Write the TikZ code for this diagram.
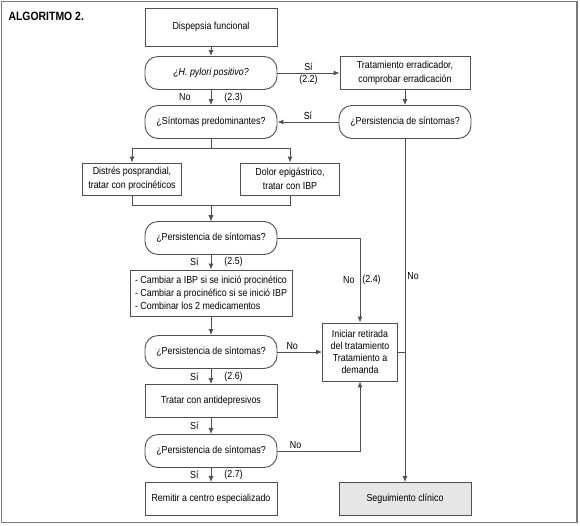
\documentclass[tikz,border=0pt]{standalone}
\usepackage{fontspec}
\setmainfont{Liberation Sans}[FakeStretch=0.87]
\usetikzlibrary{arrows.meta}
\definecolor{linegray}{HTML}{505050}
\definecolor{framegray}{HTML}{7A7A7A}
\definecolor{followfill}{HTML}{E6E6E6}
\tikzstyle{stepbox} = [rectangle, minimum width=132pt, minimum height=33pt, text centered, align=center, draw=linegray, line width=0.9pt, font=\fontsize{10.2}{13.5}\selectfont]
\tikzstyle{question} = [stepbox, rounded corners=13pt]
\tikzstyle{smallbox} = [stepbox, minimum width=99pt, minimum height=32pt]
\tikzstyle{arrow} = [line width=0.9pt, draw=linegray, ->, >={Latex[length=6pt,width=5pt]}]
\tikzstyle{link} = [line width=0.9pt, draw=linegray]
\tikzstyle{tag} = [font=\fontsize{10.2}{12}\selectfont, inner sep=2pt]

\begin{document}
\begin{tikzpicture}[node distance=49pt]
\useasboundingbox (0,0) rectangle (580pt,-525pt);
\draw [framegray, line width=1.5pt] (1.5pt,-1.5pt) rectangle (577pt,-522.5pt);
\node (title) [anchor=west, font=\bfseries\fontsize{12}{14}\selectfont] at (5pt,-16pt) {ALGORITMO 2.};
% main column
\node (disp) [stepbox, minimum height=38pt] at (211pt,-27pt) {Dispepsia funcional};
\node (hp) [question, below of=disp, node distance=46pt] {\itshape ¿H. pylori positivo?};
\node (sint) [question, below of=hp] {¿Síntomas predominantes?};
\node (distres) [smallbox, below of=sint, node distance=57pt, xshift=-79pt] {Distrés posprandial,\\tratar con procinéticos};
\node (dolor) [smallbox, below of=sint, node distance=57pt, xshift=79pt] {Dolor epigástrico,\\tratar con IBP};
\node (pers1) [question, below of=sint, node distance=116pt] {¿Persistencia de síntomas?};
\node (camb) [stepbox, below of=pers1, node distance=55pt, minimum width=162pt, minimum height=46pt, align=left, font=\fontsize{10.2}{13}\selectfont] {- Cambiar a IBP si se inició procinético\\- Cambiar a procinéfico si se inició IBP\\- Combinar los 2 medicamentos};
\node (pers2) [question, below of=camb, node distance=59pt] {¿Persistencia de síntomas?};
\node (trat) [stepbox, below of=pers2] {Tratar con antidepresivos};
\node (pers3) [question, below of=trat, node distance=50pt] {¿Persistencia de síntomas?};
\node (remit) [stepbox, below of=pers3, node distance=48pt] {Remitir a centro especializado};
% right column
\node (erra) [stepbox, right of=hp, node distance=194pt, minimum width=130pt] {Tratamiento erradicador,\\comprobar erradicación};
\node (persR) [question, right of=sint, node distance=194pt] {¿Persistencia de síntomas?};
\node (inic) [stepbox, right of=pers2, node distance=149pt, minimum width=75pt, minimum height=58pt, font=\fontsize{10.2}{12}\selectfont] {Iniciar retirada\\del tratamiento\\Tratamiento a\\demanda};
\node (segu) [stepbox, right of=remit, node distance=194pt, fill=followfill] {Seguimiento clínico};

\draw [arrow] (disp) -- (hp);
\draw [arrow] (hp) -- node [tag, above] {Sí} node [tag, below] {(2.2)} (erra);
\draw [arrow] (hp) -- node [tag, left, xshift=-18pt] {No} node [tag, right, xshift=11pt] {(2.3)} (sint);
\draw [arrow] (erra) -- (persR);
\draw [arrow] (persR) -- node [tag, above] {Sí} (sint);
\draw [arrow] (sint.south) -- ++(0,-9pt) -| (distres.north);
\draw [arrow] (sint.south) -- ++(0,-9pt) -| (dolor.north);
\draw [arrow] (distres.south) -- ++(0,-10pt) -| (pers1.north);
\draw [arrow] (dolor.south) -- ++(0,-10pt) -| (pers1.north);
\draw [arrow] (pers1.east) -| node [tag, pos=0.75, left, xshift=-3pt] {No} node [tag, pos=0.75, right] {(2.4)} (inic.north);
\draw [arrow] (pers1) -- node [tag, left, xshift=-10pt] {Sí} node [tag, right, xshift=11pt] {(2.5)} (camb);
\draw [arrow] (camb) -- (pers2);
\draw [arrow] (pers2) -- node [tag, above, pos=0.33] {No} (inic);
\draw [arrow] (pers2) -- node [tag, left, xshift=-10pt] {Sí} node [tag, right, xshift=11pt] {(2.6)} (trat);
\draw [arrow] (trat) -- node [tag, left, xshift=-10pt] {Sí} (pers3);
\draw [arrow] (pers3.east) -| node [tag, above, pos=0.11] {No} (inic.south);
\draw [arrow] (pers3) -- node [tag, left, xshift=-10pt] {Sí} node [tag, right, xshift=11pt] {(2.7)} (remit);
\draw [arrow] (persR) -- node [tag, right, pos=0.4] {No} (segu);
\draw [link] (inic.east) -- (inic.east -| segu.north);
\end{tikzpicture}
\end{document}
